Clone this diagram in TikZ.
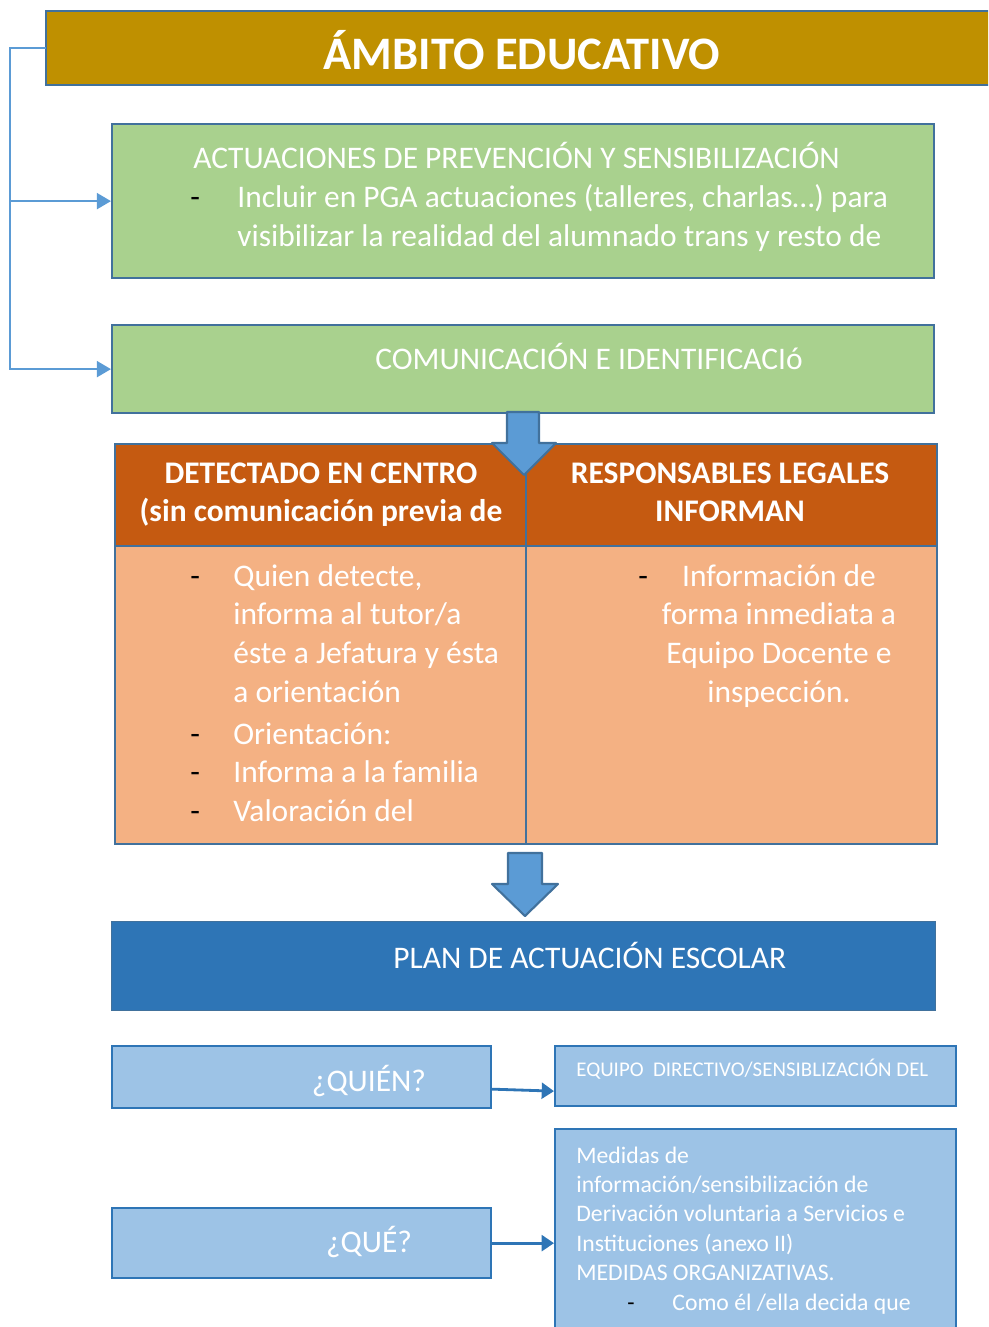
\documentclass[tikz,border=0pt]{standalone}
\usepackage{fontspec}
\setmainfont{Carlito}
\usetikzlibrary{arrows.meta,positioning,calc}

\definecolor{gold}{HTML}{BF9000}
\definecolor{edgeblue}{HTML}{41719C}
\definecolor{lineblue}{HTML}{5B9BD5}
\definecolor{leafgreen}{HTML}{A9D18E}
\definecolor{rust}{HTML}{C55A11}
\definecolor{peach}{HTML}{F4B183}
\definecolor{planblue}{HTML}{2E75B6}
\definecolor{skyblue}{HTML}{9DC3E6}

\tikzset{
  box/.style={draw=edgeblue, line width=1.3pt, inner sep=0pt, anchor=north west},
  txt/.style={text=white, inner sep=0pt, anchor=base west, font=\fontsize{17.9}{22.1}\selectfont},
  dashmark/.style={inner sep=0pt, anchor=base west, font=\fontsize{17.9}{22.1}\selectfont},
  branch/.style={draw=lineblue, line width=1.3pt, -{Triangle[length=8pt,width=9pt]}},
  link/.style={draw=planblue, line width=1.6pt, -{Triangle[length=7pt,width=9pt]}},
  blockarrow/.style={fill=lineblue, draw=edgeblue, line width=1.2pt, line join=round},
}

\begin{document}
\begin{tikzpicture}[x=0.02cm, y=-0.02cm]
\useasboundingbox (0,0) rectangle (988,1327);
\clip (0,0) rectangle (988,1327);

% boxes
\node[box, draw=none, fill=gold, minimum width=22cm, minimum height=1.44cm] (titulo) at (46,11) {};
\draw[edgeblue, line width=1.3pt] (titulo.north east) -- (titulo.north west) -- (titulo.south west) -- (titulo.south east);
\node[box, fill=leafgreen, minimum width=16.44cm, minimum height=3.08cm] (actu) at (111,123) {};
\node[box, fill=leafgreen, minimum width=16.44cm, minimum height=1.76cm] (comu) at (111,324) {};
\node[box, fill=rust, minimum width=8.22cm, minimum height=2.04cm] (dethead) at (114,443) {};
\node[box, fill=rust, minimum width=8.22cm, minimum height=2.04cm] (resphead) at (525,443) {};
\node[box, fill=peach, minimum width=8.22cm, minimum height=5.96cm] (detbody) at (114,545) {};
\node[box, fill=peach, minimum width=8.22cm, minimum height=5.96cm] (respbody) at (525,545) {};
\node[box, fill=planblue, line width=0.8pt, minimum width=16.48cm, minimum height=1.78cm] (plan) at (111,921) {};
\node[box, fill=skyblue, draw=planblue, minimum width=7.58cm, minimum height=1.24cm] (quien) at (111,1045) {};
\node[box, fill=skyblue, draw=planblue, minimum width=8.02cm, minimum height=1.2cm] (equipo) at (554,1045) {};
\node[box, fill=skyblue, draw=planblue, minimum width=7.58cm, minimum height=1.4cm] (que) at (111,1207) {};
\node[box, fill=skyblue, draw=planblue, minimum width=8.02cm, minimum height=4.24cm] (medidas) at (554,1128) {};

% block arrows
\draw[blockarrow] (507,412) -- (507,443) -- (492,443) -- (524,475) -- (556,443) -- (539,443) -- (539,412) -- cycle;
\draw[blockarrow] (508,853) -- (508,884) -- (492,884) -- (525,916) -- (558,884) -- (542,884) -- (542,853) -- cycle;

% texts
\node[text=white, inner sep=0pt, anchor=base, font=\bfseries\fontsize{26.5}{30}\selectfont] (titulotxt) at (522,70) {ÁMBITO EDUCATIVO};

\node[txt] (actuhead) at (193,169) {ACTUACIONES DE PREVENCIÓN Y SENSIBILIZACIÓN};
\node[dashmark] (actudash) at (190,208) {-};
\node[txt, text width=14cm, align=flush left] (actutxt) at (237,208) {Incluir en PGA actuaciones (talleres, charlas…) para\\visibilizar la realidad del alumnado trans y resto de};

\node[txt] (comutxt) at (375,370) {COMUNICACIÓN E IDENTIFICACIó};

\node[txt, anchor=base, text width=8cm, align=flush center, font=\bfseries\fontsize{17.9}{22.1}\selectfont] (dettxt) at (321,483) {DETECTADO EN CENTRO\\(sin comunicación previa de};
\node[txt, anchor=base, text width=8cm, align=flush center, font=\bfseries\fontsize{17.9}{22.1}\selectfont] (resptxt) at (730,483) {RESPONSABLES LEGALES\\INFORMAN};

\foreach \y in {586,744,782,821}
  \node[dashmark] (detdash\y) at (190,\y) {-};
\node[txt, text width=6cm, align=flush left] (detuno) at (233,586) {Quien detecte,\\informa al tutor/a\\éste a Jefatura y ésta\\a orientación};
\node[txt] (detdos) at (233,744) {Orientación:};
\node[txt] (dettres) at (233,782) {Informa a la familia};
\node[txt] (detcuatro) at (233,821) {Valoración del};

\node[dashmark] (respdash) at (638,586) {-};
\node[txt, anchor=base, text width=6cm, align=flush center] (resptxtb) at (779,586) {Información de\\forma inmediata a\\Equipo Docente e\\inspección.};

\node[txt] (plantxt) at (393,968) {PLAN DE ACTUACIÓN ESCOLAR};
\node[txt, anchor=base] (quientxt) at (369,1091) {¿QUIÉN?};
\node[txt, anchor=base] (quetxt) at (369,1252) {¿QUÉ?};
\node[txt, font=\fontsize{11.9}{14}\selectfont] (equipotxt) at (576,1076) {EQUIPO~ DIRECTIVO/SENSIBLIZACIÓN DEL};
\node[txt, text width=7.5cm, align=flush left, font=\fontsize{13.5}{16.7}\selectfont] (medidastxt) at (576,1163) {Medidas de\\información/sensibilización de\\Derivación voluntaria a Servicios e\\Instituciones (anexo II)\\MEDIDAS ORGANIZATIVAS.};
\node[dashmark, font=\fontsize{13.5}{16.7}\selectfont] (comodash) at (627,1310) {-};
\node[txt, font=\fontsize{13.5}{16.7}\selectfont] (comotxt) at (672,1310) {Como él /ella decida que};

% connectors
\draw[branch] (titulo.west) -- ++(-36,0) |- (actu.west);
\draw[branch] (titulo.west) -- ++(-36,0) |- (comu.west);
\draw[link] ($(quien.east)+(0,12)$) -- ($(equipo.west)+(0,15)$);
\draw[link] (que.east) -- (que.east -| medidas.west);
\end{tikzpicture}
\end{document}
